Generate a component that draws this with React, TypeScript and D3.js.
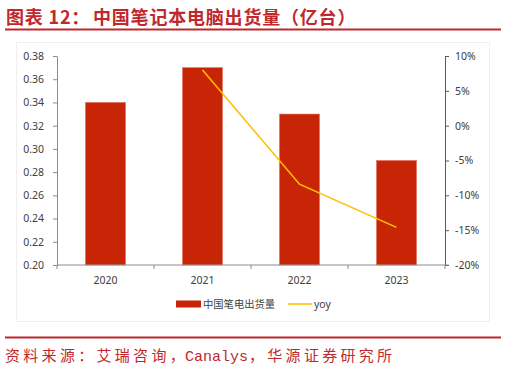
import { useEffect, useRef } from 'react';
import * as d3 from 'd3';

const years = ['2020', '2021', '2022', '2023'];
const shipments = [0.34, 0.37, 0.33, 0.29];
const yoyYears = ['2021', '2022', '2023'];
const yoyValues = [0.08, -0.084, -0.146];
const leftTicks = [0.2, 0.22, 0.24, 0.26, 0.28, 0.3, 0.32, 0.34, 0.36, 0.38];
const rightTicks = [-0.2, -0.15, -0.1, -0.05, 0, 0.05, 0.1];

const RED = '#C0282D';
const BAR = '#C82506';
const LINE = '#FFC000';
const TEXT = '#404040';
const FONT = "'Noto Sans', 'Noto Sans CJK SC', sans-serif";
const CJK = "'Noto Sans CJK SC', sans-serif";

export default function App() {
  const svgRef = useRef<SVGSVGElement>(null);

  useEffect(() => {
    if (!svgRef.current) return;
    const width = 506;
    const height = 371;
    const left = 57;
    const right = 445;
    const top = 56;
    const bottom = 265;

    const svg = d3.select(svgRef.current);
    svg.selectAll('*').remove();
    svg.attr('width', width).attr('height', height);

    svg.append('rect').attr('width', width).attr('height', height).attr('fill', '#fff');

    // title
    const title = svg.append('text')
      .attr('y', 24)
      .attr('fill', RED)
      .attr('font-family', CJK)
      .attr('font-weight', 'bold')
      .attr('font-size', 18)
      .attr('letter-spacing', 0.8);
    title.append('tspan').attr('x', 6).text('图表 12：');
    title.append('tspan').attr('x', 93).text('中国笔记本电脑出货量（亿台）');

    svg.append('line')
      .attr('x1', 5).attr('x2', 501).attr('y1', 29.5).attr('y2', 29.5)
      .attr('stroke', RED).attr('stroke-width', 2);

    // chart frame
    svg.append('rect')
      .attr('x', 16.5).attr('y', 42.5).attr('width', 473).attr('height', 279)
      .attr('fill', '#fff').attr('stroke', '#f0f0f0');

    const x = d3.scaleBand<string>()
      .domain(years)
      .range([left, right])
      .paddingInner(0.588)
      .paddingOuter(0.294);
    const yLeft = d3.scaleLinear().domain([0.2, 0.38]).range([bottom, top]);
    const yRight = d3.scaleLinear().domain([-0.2, 0.1]).range([bottom, top]);

    // bars
    svg.append('g')
      .selectAll('rect')
      .data(years)
      .join('rect')
      .attr('x', (d) => x(d)!)
      .attr('y', (d, i) => yLeft(shipments[i]))
      .attr('width', x.bandwidth())
      .attr('height', (d, i) => bottom - yLeft(shipments[i]))
      .attr('fill', BAR)
      .attr('stroke', '#E0705A')
      .attr('stroke-width', 0.6);

    // left axis
    const gl = svg.append('g')
      .attr('transform', `translate(${left},0)`)
      .call(d3.axisLeft(yLeft).tickValues(leftTicks).tickFormat(d3.format('.2f')).tickSize(4).tickSizeOuter(0));
    gl.select('.domain').attr('stroke', '#8c8c8c');
    gl.selectAll('.tick line').attr('stroke', '#8c8c8c');
    gl.selectAll('.tick text')
      .attr('x', -13)
      .attr('fill', TEXT)
      .attr('font-family', FONT)
      .attr('font-size', 10.5);

    // right axis, plain hyphen for negatives
    const pct = (d: d3.NumberValue) => `${Math.round(+d * 100)}%`;
    const gr = svg.append('g')
      .attr('transform', `translate(${right},0)`)
      .call(d3.axisRight(yRight).tickValues(rightTicks).tickFormat(pct).tickSize(4).tickSizeOuter(0));
    gr.select('.domain').attr('stroke', '#595959');
    gr.selectAll('.tick line').attr('stroke', '#595959');
    gr.selectAll('.tick text')
      .attr('x', 10)
      .attr('fill', TEXT)
      .attr('font-family', FONT)
      .attr('font-size', 10.5);

    // x axis
    const gx = svg.append('g').attr('transform', `translate(0,${bottom})`);
    gx.append('line')
      .attr('x1', left).attr('x2', right + 4)
      .attr('stroke', '#8c8c8c');
    const step = x.step();
    gx.selectAll('line.tick')
      .data(d3.range(years.length + 1))
      .join('line')
      .attr('class', 'tick')
      .attr('x1', (i) => left + i * step).attr('x2', (i) => left + i * step)
      .attr('y1', 0).attr('y2', 4)
      .attr('stroke', '#8c8c8c');
    gx.selectAll('text')
      .data(years)
      .join('text')
      .attr('x', (d) => x(d)! + x.bandwidth() / 2)
      .attr('y', 19)
      .attr('text-anchor', 'middle')
      .attr('fill', TEXT)
      .attr('font-family', FONT)
      .attr('font-size', 10.5)
      .text((d) => d);

    // yoy line
    const line = d3.line<number>()
      .x((d, i) => x(yoyYears[i])! + x.bandwidth() / 2)
      .y((d) => yRight(d));
    svg.append('path')
      .datum(yoyValues)
      .attr('d', line)
      .attr('fill', 'none')
      .attr('stroke', LINE)
      .attr('stroke-width', 1.6);

    // legend
    const lg = svg.append('g');
    lg.append('rect')
      .attr('x', 176).attr('y', 300.5).attr('width', 25).attr('height', 7)
      .attr('fill', BAR);
    lg.append('text')
      .attr('x', 203).attr('y', 308)
      .attr('fill', TEXT).attr('font-family', CJK).attr('font-size', 10.3)
      .text('中国笔电出货量');
    lg.append('line')
      .attr('x1', 288).attr('x2', 312).attr('y1', 304).attr('y2', 304)
      .attr('stroke', LINE).attr('stroke-width', 1.6);
    lg.append('text')
      .attr('x', 314).attr('y', 307.5)
      .attr('fill', TEXT).attr('font-family', FONT).attr('font-size', 10.5)
      .text('yoy');

    // footer
    svg.append('line')
      .attr('x1', 5).attr('x2', 501).attr('y1', 337.5).attr('y2', 337.5)
      .attr('stroke', RED).attr('stroke-width', 2);
    const src = svg.append('text')
      .attr('y', 361)
      .attr('fill', RED)
      .attr('font-family', CJK)
      .attr('font-size', 15);
    src.append('tspan').attr('x', 5).attr('letter-spacing', 3.3).text('资料来源：艾瑞咨询，');
    src.append('tspan').attr('x', 185).attr('font-family', "'Liberation Mono', monospace").attr('letter-spacing', 0).text('Canalys');
    src.append('tspan').attr('x', 249).attr('letter-spacing', 3.3).text('，华源证券研究所');
  }, []);

  return (
    <div style={{ position: 'fixed', left: 0, top: 0 }}>
      <svg ref={svgRef} style={{ display: 'block' }} />
    </div>
  );
}
